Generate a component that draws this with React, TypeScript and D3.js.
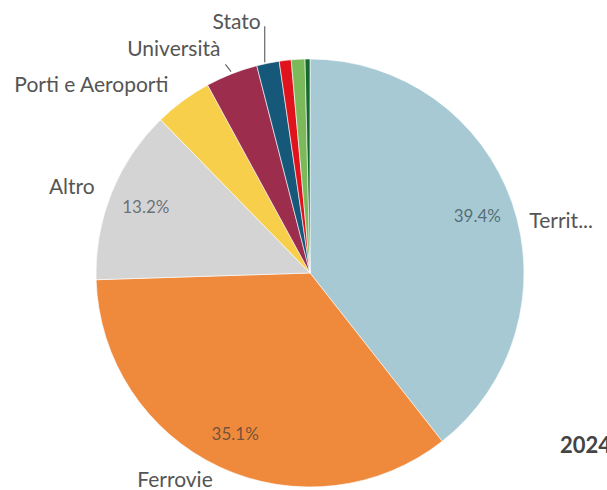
import React from "react";
import * as d3 from "d3";

const categories = ["Territ...", "Ferrovie", "Altro", "Porti e Aeroporti", "Università", "Stato", "Altro 2", "Altro 3", "Altro 4"];
const values = [39.4, 35.1, 13.2, 4.36, 3.94, 1.7, 0.9, 1.03, 0.37];
const colors = ["#a7c9d3", "#ef893b", "#d4d4d4", "#f8cf4b", "#9c2d4d", "#16587a", "#e0131c", "#7cb95b", "#16692f"];
const showOuter = [true, true, true, true, true, true, false, false, false];
const showPct = [true, true, true, false, false, false, false, false, false];
const yearLabel = "2024";

const W = 607, H = 490;
const cx = 310, cy = 273, R = 214;

export default function App() {
  const pie = d3.pie<number>().sort(null).value((d) => d);
  const arcs = pie(values);
  const arc = d3.arc<d3.PieArcDatum<number>>().innerRadius(0).outerRadius(R);
  const pctArc = d3.arc<d3.PieArcDatum<number>>().innerRadius(177).outerRadius(177);
  const total = d3.sum(values);
  const fmt = d3.format(".1f");

  const outerPos = (a: d3.PieArcDatum<number>, r: number) => {
    const m = (a.startAngle + a.endAngle) / 2;
    return [Math.sin(m) * r, -Math.cos(m) * r, m] as [number, number, number];
  };

  return (
    <svg width={W} height={H} style={{ position: "absolute", left: 0, top: 0, background: "#fff" }} fontFamily="Lato, 'Noto Sans', sans-serif">
      <g transform={`translate(${cx},${cy})`}>
        {arcs.map((a, i) => (
          <path key={i} d={arc(a) || ""} fill={colors[i]} stroke="#fff" strokeWidth={0.6} />
        ))}
        {arcs.map((a, i) => {
          if (!showPct[i]) return null;
          const [x, y] = pctArc.centroid(a);
          return (
            <text key={"p" + i} x={x} y={y} textAnchor="middle" dominantBaseline="central" fontSize={17} fill="#1f2f3a" fillOpacity={0.62}>
              {fmt((values[i] / total) * 100)}%
            </text>
          );
        })}
        {arcs.map((a, i) => {
          if (!showOuter[i]) return null;
          const name = categories[i];
          if (name === "Università") {
            const [x1, y1] = outerPos(a, R - 4);
            const [x2, y2] = outerPos(a, R + 6);
            return (
              <g key={"o" + i}>
                <line x1={x1 - 2} y1={y1 - 6} x2={x2 - 4} y2={y2 - 4} stroke="#666" strokeWidth={1.2} />
                <text x={x2 - 9} y={y2 - 21} textAnchor="end" dominantBaseline="central" fontSize={21} fill="#555">{name}</text>
              </g>
            );
          }
          if (name === "Stato") {
            const [x1, y1] = outerPos(a, R + 1);
            return (
              <g key={"o" + i}>
                <line x1={x1 - 3} y1={y1} x2={x1 - 3} y2={y1 - 36} stroke="#666" strokeWidth={1.2} />
                <text x={x1 - 7} y={y1 - 42} textAnchor="end" dominantBaseline="central" fontSize={21} fill="#555">{name}</text>
              </g>
            );
          }
          const [x, y, m] = outerPos(a, 230);
          const right = m < Math.PI;
          const dy = name.startsWith("Territ") ? 22 : name === "Porti e Aeroporti" ? -4 : name === "Ferrovie" ? -3 : name === "Altro" ? -2 : 0;
          const dx = name.startsWith("Territ") ? 2 : name === "Porti e Aeroporti" ? -5 : name === "Altro" ? -2 : 0;
          return (
            <text key={"o" + i} x={x + dx} y={y + dy} textAnchor={right ? "start" : "end"} dominantBaseline="central" fontSize={21} fill="#555">
              {name}
            </text>
          );
        })}
      </g>
      <text x={560} y={453} fontSize={22} fontWeight="bold" fill="#444">{yearLabel}</text>
    </svg>
  );
}
